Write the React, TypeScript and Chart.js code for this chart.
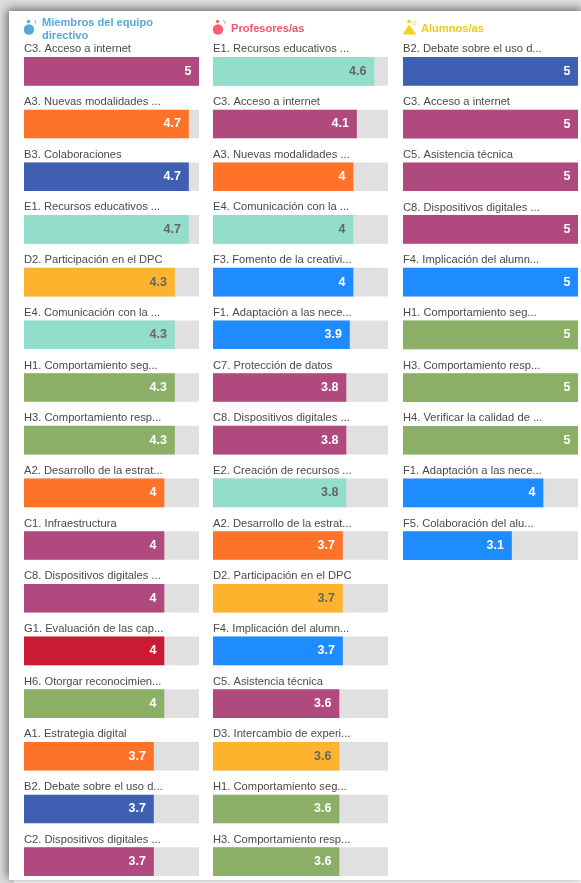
import React, { useEffect, useRef } from "react";
import { Chart, registerables } from "chart.js";

Chart.register(...registerables);

const MAX_SCORE = 5;

const PURPLE = "#B04A7E";
const ORANGE = "#FF7328";
const NAVY = "#3F5FB3";
const TEAL = "#93DDCB";
const YELLOW = "#FDB32E";
const GREEN = "#8BAF66";
const RED = "#CA1B33";
const BLUE = "#1E8BFF";
const TRACK = "#E0E0E0";

const directivosLabels = [
  "C3. Acceso a internet", "A3. Nuevas modalidades ...", "B3. Colaboraciones", "E1. Recursos educativos ...",
  "D2. Participación en el DPC", "E4. Comunicación con la ...", "H1. Comportamiento seg...", "H3. Comportamiento resp...",
  "A2. Desarrollo de la estrat...", "C1. Infraestructura", "C8. Dispositivos digitales ...", "G1. Evaluación de las cap...",
  "H6. Otorgar reconocimien...", "A1. Estrategia digital", "B2. Debate sobre el uso d...", "C2. Dispositivos digitales ...",
];
const directivosValues = [5, 4.7, 4.7, 4.7, 4.3, 4.3, 4.3, 4.3, 4, 4, 4, 4, 4, 3.7, 3.7, 3.7];
const directivosColors = [PURPLE, ORANGE, NAVY, TEAL, YELLOW, TEAL, GREEN, GREEN, ORANGE, PURPLE, PURPLE, RED, GREEN, ORANGE, NAVY, PURPLE];

const profesoresLabels = [
  "E1. Recursos educativos ...", "C3. Acceso a internet", "A3. Nuevas modalidades ...", "E4. Comunicación con la ...",
  "F3. Fomento de la creativi...", "F1. Adaptación a las nece...", "C7. Protección de datos", "C8. Dispositivos digitales ...",
  "E2. Creación de recursos ...", "A2. Desarrollo de la estrat...", "D2. Participación en el DPC", "F4. Implicación del alumn...",
  "C5. Asistencia técnica", "D3. Intercambio de experi...", "H1. Comportamiento seg...", "H3. Comportamiento resp...",
];
const profesoresValues = [4.6, 4.1, 4, 4, 4, 3.9, 3.8, 3.8, 3.8, 3.7, 3.7, 3.7, 3.6, 3.6, 3.6, 3.6];
const profesoresColors = [TEAL, PURPLE, ORANGE, TEAL, BLUE, BLUE, PURPLE, PURPLE, TEAL, ORANGE, YELLOW, BLUE, PURPLE, YELLOW, GREEN, GREEN];

const alumnosLabels = [
  "B2. Debate sobre el uso d...", "C3. Acceso a internet", "C5. Asistencia técnica", "C8. Dispositivos digitales ...",
  "F4. Implicación del alumn...", "H1. Comportamiento seg...", "H3. Comportamiento resp...", "H4. Verificar la calidad de ...",
  "F1. Adaptación a las nece...", "F5. Colaboración del alu...",
];
const alumnosValues = [5, 5, 5, 5, 5, 5, 5, 5, 4, 3.1];
const alumnosColors = [NAVY, PURPLE, PURPLE, PURPLE, BLUE, GREEN, GREEN, GREEN, BLUE, BLUE];

const ROW = 52.67;
const PAD_TOP = 10;
const FONT = '"Liberation Sans", Arial, sans-serif';

const rowText = {
  id: "rowText",
  afterDatasetsDraw(chart: any) {
    const { ctx } = chart;
    const meta = chart.getDatasetMeta(1);
    const data = chart.data.datasets[1].data as number[];
    const colors = chart.data.datasets[1].backgroundColor as string[];
    ctx.save();
    meta.data.forEach((bar: any, i: number) => {
      ctx.textBaseline = "middle";
      ctx.textAlign = "left";
      ctx.font = `11.2px ${FONT}`;
      ctx.fillStyle = "#4a4a4a";
      ctx.fillText(chart.data.labels[i], 0, bar.y - 22);
      const dark = colors[i] === TEAL || colors[i] === YELLOW;
      ctx.textAlign = "right";
      ctx.font = `bold 12.5px ${FONT}`;
      ctx.fillStyle = dark ? "#666660" : "#ffffff";
      ctx.fillText(String(data[i]), bar.x - 7.5, bar.y);
    });
    ctx.restore();
  },
};

function Column({ left, labels, values, colors }: { left: number; labels: string[]; values: number[]; colors: string[] }) {
  const ref = useRef<HTMLCanvasElement>(null);
  useEffect(() => {
    const chart = new Chart(ref.current!, {
      type: "bar",
      data: {
        labels,
        datasets: [
          { data: labels.map(() => MAX_SCORE), backgroundColor: TRACK, barThickness: 28, order: 2, grouped: false } as any,
          { data: values, backgroundColor: colors, barThickness: 28, order: 1, grouped: false } as any,
        ],
      },
      options: {
        indexAxis: "y",
        animation: false,
        responsive: false,
        maintainAspectRatio: false,
        layout: { padding: { top: PAD_TOP } },
        plugins: { legend: { display: false }, tooltip: { enabled: false }, title: { display: false } },
        scales: {
          x: { display: false, min: 0, max: MAX_SCORE },
          y: { display: false, grid: { display: false } },
        },
      },
      plugins: [rowText],
    });
    return () => chart.destroy();
  }, []);
  const height = Math.round(labels.length * ROW) + PAD_TOP;
  return (
    <canvas
      ref={ref}
      width={175}
      height={height}
      style={{ position: "absolute", left, top: 45 - PAD_TOP, width: 175, height, filter: "blur(0.45px)" }}
    />
  );
}

function Person({ color }: { color: string }) {
  return (
    <svg width="16" height="18" viewBox="0 0 16 18" style={{ display: "block" }}>
      <circle cx="4.5" cy="3.5" r="1.7" fill={color} />
      <path d="M10 2.5 a2 2 0 0 1 1.5 3" fill="none" stroke={color} strokeWidth="0.9" />
      <circle cx="5" cy="11.5" r="5.2" fill={color} />
    </svg>
  );
}

function Student({ color }: { color: string }) {
  return (
    <svg width="16" height="18" viewBox="0 0 16 18" style={{ display: "block" }}>
      <circle cx="6" cy="3.5" r="1.8" fill={color} />
      <circle cx="11.5" cy="5.5" r="1.6" fill="none" stroke={color} strokeWidth="0.9" />
      <path d="M6 6.5 L13 15.5 Q13.5 16.5 12 16.5 L1 16.5 Q-0.5 16.5 0.5 15 Z" fill={color} />
    </svg>
  );
}

function Head({ left, top, iconTop, color, text, icon }: any) {
  return (
    <>
      <div style={{ position: "absolute", left: left - 18, top: iconTop, filter: "blur(0.4px)" }}>{icon}</div>
      <div
        style={{
          position: "absolute", left, top, width: 125, color, font: `bold 11.1px/13px ${FONT}`, filter: "blur(0.4px)",
        }}
      >
        {text}
      </div>
    </>
  );
}

export default function App() {
  useEffect(() => {
    document.body.style.margin = "0";
    document.body.style.background = "#fff";
    document.body.style.overflow = "hidden";
  }, []);
  return (
    <div style={{ position: "relative", width: 581, height: 883, overflow: "hidden", background: "#dedede" }}>
      <div
        style={{
          position: "absolute", left: 9, top: 11, width: 575, height: 869, background: "#fff",
          boxShadow: "-2px -2px 9px rgba(0,0,0,0.55), 5px 5px 0 #fff",
        }}
      />
      <Head left={42} top={16} iconTop={18} color="#5AA7D8" text="Miembros del equipo directivo" icon={<Person color="#5AA7D8" />} />
      <Head left={231} top={22} iconTop={18} color="#F0566E" text="Profesores/as" icon={<Person color="#FB5F73" />} />
      <Head left={421} top={22} iconTop={18} color="#EFC81E" text="Alumnos/as" icon={<Student color="#F5D21F" />} />
      <Column left={24} labels={directivosLabels} values={directivosValues} colors={directivosColors} />
      <Column left={213} labels={profesoresLabels} values={profesoresValues} colors={profesoresColors} />
      <Column left={403} labels={alumnosLabels} values={alumnosValues} colors={alumnosColors} />
    </div>
  );
}
